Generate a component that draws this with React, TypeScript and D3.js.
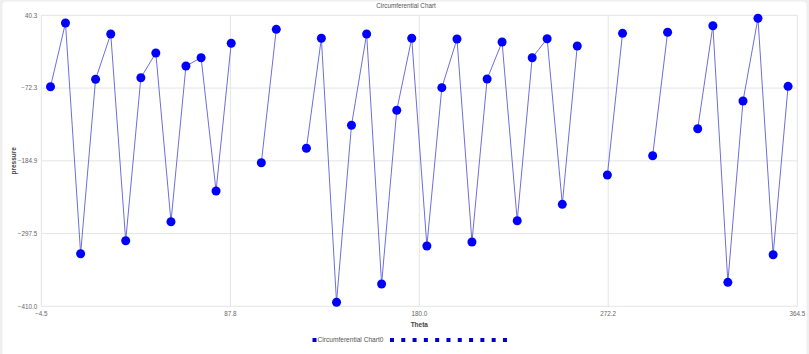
import React, { useEffect, useRef } from 'react';
import * as d3 from 'd3';

const theta = [
  0, 7.3, 14.7, 22.0, 29.4, 36.7, 44.1, 51.4, 58.8, 66.1,
  73.5, 80.8, 88.2, 95.5, 102.9, 110.2, 117.6, 124.9, 132.2, 139.6,
  146.9, 154.3, 161.6, 169.0, 176.3, 183.7, 191.0, 198.4, 205.7, 213.1,
  220.4, 227.8, 235.1, 242.4, 249.8, 257.1, 264.5, 271.8, 279.2, 286.5,
  293.9, 301.2, 308.6, 315.9, 323.3, 330.6, 338.0, 345.3, 352.7, 360.0,
];

// null = no reading (line breaks there)
const pressure: (number | null)[] = [
  -70.2, 28.4, -328.6, -58.7, 11.4, -308.5, -56.3, -18.0, -279.1, -38.2,
  -25.3, -231.6, -3.0, null, -187.8, 18.6, null, -165.5, 4.7, -403.8,
  -129.9, 11.4, -375.5, -106.7, 4.7, -316.7, -71.7, 3.6, -310.5, -58.3,
  -1.0, -277.6, -25.3, 4.1, -252.2, -7.2, null, -206.8, 12.4, null,
  -177.0, 14.0, null, -135.2, 24.2, -372.9, -92.3, 35.7, -330.2, -69.6,
];

const xTicks = [-4.5, 87.8, 180.0, 272.2, 364.5];
const yTicks = [40.3, -72.3, -184.9, -297.5, -410.0];
const legendNames = ['Circumferential Chart0', '', '', '', '', '', '', '', '', '', '', ''];

const W = 809;
const H = 354;

export default function App() {
  const ref = useRef<SVGSVGElement>(null);

  useEffect(() => {
    document.body.style.margin = '0';
    const svg = d3.select(ref.current);
    svg.selectAll('*').remove();

    const font = '"Liberation Sans", Arial, sans-serif';
    const left = 41.3, right = 797.3, top = 15.3, bottom = 306.3;

    svg.append('rect').attr('width', W).attr('height', H).attr('fill', '#efefef');
    svg.append('rect')
      .attr('x', 2.5).attr('y', 1.5).attr('width', 804).attr('height', H + 10)
      .attr('rx', 4).attr('fill', '#fff');

    const x = d3.scaleLinear().domain([xTicks[0], xTicks[xTicks.length - 1]]).range([left, right]);
    const y = d3.scaleLinear().domain([yTicks[yTicks.length - 1], yTicks[0]]).range([bottom, top]);

    // grid
    const grid = svg.append('g').attr('stroke', '#e4e4e4').attr('stroke-width', 1);
    grid.selectAll('line.v').data(xTicks).enter().append('line')
      .attr('x1', d => x(d)).attr('x2', d => x(d)).attr('y1', top).attr('y2', bottom);
    grid.selectAll('line.h').data(yTicks).enter().append('line')
      .attr('x1', left).attr('x2', right).attr('y1', d => y(d)).attr('y2', d => y(d));

    const fmt = d3.format('.1f');
    svg.append('g').selectAll('text').data(yTicks).enter().append('text')
      .attr('x', left - 4).attr('y', d => y(d)).attr('dy', '0.35em')
      .attr('text-anchor', 'end').attr('font-family', font).attr('font-size', 6.3)
      .attr('fill', '#666').text(d => fmt(d));
    svg.append('g').selectAll('text').data(xTicks).enter().append('text')
      .attr('x', d => x(d)).attr('y', 314).attr('dy', '0.35em')
      .attr('text-anchor', 'middle').attr('font-family', font).attr('font-size', 6.3)
      .attr('fill', '#666').text(d => fmt(d));

    svg.append('text').attr('x', (left + right) / 2).attr('y', 324.5).attr('dy', '0.35em')
      .attr('text-anchor', 'middle').attr('font-family', font).attr('font-size', 6.5)
      .attr('font-weight', 'bold').attr('fill', '#444').text('Theta');
    svg.append('text')
      .attr('transform', `translate(13.5,${(top + bottom) / 2}) rotate(-90)`)
      .attr('dy', '0.35em').attr('text-anchor', 'middle').attr('font-family', font)
      .attr('font-size', 6.5).attr('font-weight', 'bold').attr('fill', '#444').text('pressure');
    svg.append('text').attr('x', 406).attr('y', 6).attr('dy', '0.35em')
      .attr('text-anchor', 'middle').attr('font-family', font).attr('font-size', 6.3)
      .attr('fill', '#555').text('Circumferential Chart');

    const pts = theta.map((t, i) => ({ t, v: pressure[i] }));
    const line = d3.line<{ t: number; v: number | null }>()
      .defined(d => d.v != null)
      .x(d => x(d.t))
      .y(d => y(d.v as number));

    svg.append('path').datum(pts).attr('d', line)
      .attr('fill', 'none').attr('stroke', '#6e6edc').attr('stroke-width', 1);

    svg.append('g').selectAll('circle').data(pts.filter(d => d.v != null)).enter()
      .append('circle')
      .attr('cx', d => x(d.t)).attr('cy', d => y(d.v as number)).attr('r', 4.5)
      .attr('fill', '#0000ff');

    // legend
    const lg = svg.append('g').attr('font-family', font).attr('font-size', 6.6);
    let lx = 312.5;
    legendNames.forEach(name => {
      lg.append('rect').attr('x', lx).attr('y', 338).attr('width', 4).attr('height', 4).attr('fill', '#0000cc');
      if (name) {
        const t = lg.append('text').attr('x', lx + 5).attr('y', 340).attr('dy', '0.35em')
          .attr('fill', '#555').text(name);
        const w = (t.node() as SVGTextElement).getComputedTextLength();
        lx += 5 + w + 6.5;
      } else {
        lx += 11.3;
      }
    });
  }, []);

  return <svg ref={ref} width={W} height={H} style={{ display: 'block' }} />;
}
